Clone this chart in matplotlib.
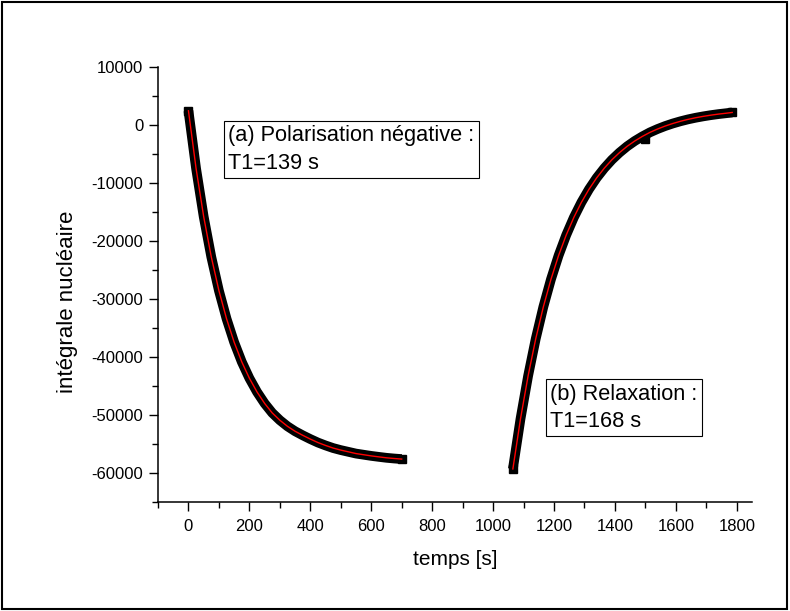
import matplotlib
matplotlib.use("Agg")
import matplotlib.pyplot as plt
from matplotlib.patches import Rectangle
from matplotlib.ticker import MultipleLocator

# (a) negative polarisation
t_a = [0, 25, 50, 75, 100, 125, 150, 175, 200, 225, 250, 275, 300, 325, 350,
       375, 400, 425, 450, 475, 500, 525, 550, 575, 600, 625, 650, 675, 700]
y_a = [2450, -7500, -15810, -22760, -28560, -33400, -37450, -40840, -43660,
       -46020, -48000, -49640, -50900, -51950, -52800, -53500, -54150, -54750,
       -55250, -55700, -56050, -56350, -56650, -56850, -57050, -57220, -57380,
       -57500, -57600]

# (b) relaxation
t_b = [1065, 1090, 1115, 1140, 1165, 1190, 1215, 1240, 1265, 1290, 1315, 1340,
       1365, 1390, 1415, 1440, 1465, 1490, 1515, 1540, 1565, 1590, 1615, 1640,
       1665, 1690, 1715, 1740, 1765, 1785]
y_b = [-59300, -50680, -43260, -36870, -31360, -26610, -22510, -18990, -15950,
       -13330, -11070, -9120, -7450, -6000, -4760, -3680, -2760, -1970, -1270,
       -690, -180, 260, 640, 970, 1250, 1490, 1700, 1880, 2030, 2160]

# a stray point sitting below the band
t_out = [1500]
y_out = [-2450]

label_a = "(a) Polarisation négative :\nT1=139 s"
label_b = "(b) Relaxation :\nT1=168 s"

plt.rcParams["font.family"] = ["Liberation Sans", "DejaVu Sans"]
plt.rcParams["axes.unicode_minus"] = False

fig = plt.figure(figsize=(7.9, 6.11), dpi=100)
ax = fig.add_axes([158 / 790, 109 / 611, 594 / 790, 435 / 611])

for t, y in [(t_a, y_a), (t_b, y_b)]:
    ax.plot(t, y, color="black", lw=7, solid_capstyle="butt",
            marker="s", ms=6, markevery=[0, len(t) - 1], zorder=2)
    ax.plot(t, y, color="red", lw=1.0, zorder=3)
ax.plot(t_out, y_out, "s", color="black", ms=6, zorder=2)

ax.set_xlim(-100, 1850)
ax.set_ylim(-65000, 10000)
ax.xaxis.set_minor_locator(MultipleLocator(100))
ax.yaxis.set_minor_locator(MultipleLocator(5000))
ax.set_xticks([0, 200, 400, 600, 800, 1000, 1200, 1400, 1600, 1800])
ax.set_yticks([-60000, -50000, -40000, -30000, -20000, -10000, 0, 10000])

for s in ["top", "right"]:
    ax.spines[s].set_visible(False)
for s in ["left", "bottom"]:
    ax.spines[s].set_linewidth(1.1)
ax.tick_params(which="major", direction="out", length=6.5, width=1.0, labelsize=12)
ax.tick_params(which="minor", direction="out", length=4, width=1.0)
ax.tick_params(axis="x", pad=6)
ax.tick_params(axis="y", pad=4)

ax.set_xlabel("temps [s]", fontsize=15)
ax.set_ylabel("intégrale nucléaire", fontsize=16)
ax.xaxis.set_label_coords(0.5, -0.11)
ax.yaxis.set_label_coords(-0.135, 0.46)

box = dict(boxstyle="square,pad=0.2", fc="white", ec="black", lw=0.8)
ax.text(0.118, 0.866, label_a, transform=ax.transAxes, ha="left", va="top",
        fontsize=15.7, bbox=box, linespacing=1.4, zorder=4)
ax.text(0.66, 0.272, label_b, transform=ax.transAxes, ha="left", va="top",
        fontsize=15.7, bbox=box, linespacing=1.4, zorder=4)

fig.patches.append(Rectangle((0.002, 0.004), 0.994, 0.993, transform=fig.transFigure,
                             fill=False, ec="black", lw=1.5))

fig.savefig("out.png", dpi=100)
